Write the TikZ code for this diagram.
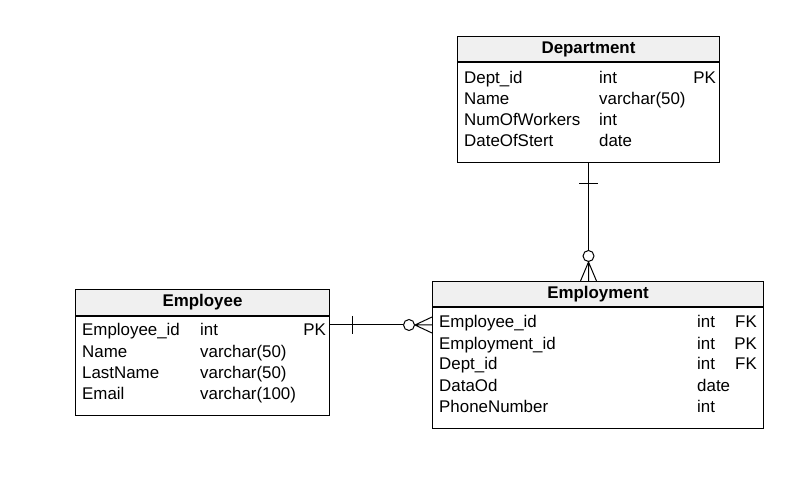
\documentclass[tikz,border=0pt]{standalone}
\usepackage{fontspec}
\setmainfont{Liberation Sans}
\usepackage{tikz}
\usetikzlibrary{positioning}
\definecolor{headgray}{HTML}{F0F0F0}
\newcommand\tablefont{\fontsize{16.9}{20}\selectfont}

\begin{document}
\begin{tikzpicture}[x=1pt, y=-1pt,
    table head/.style={draw, fill=headgray, line width=1pt, anchor=north west, inner sep=0pt, font=\bfseries\tablefont},
    table body/.style={draw, line width=1pt, anchor=north west, inner sep=0pt},
    field/.style={anchor=base west, inner sep=0pt, font=\tablefont},
    key/.style={anchor=base east, inner sep=0pt, font=\tablefont},
    rel/.style={line width=1pt}]
    \useasboundingbox (0,0) rectangle (806,486);

    % tables
    \node[table head, minimum width=262pt, minimum height=25pt] at (457,36) (dept) {Department};
    \node[table body, minimum width=262pt, minimum height=100pt] at (dept.south west) (deptbody) {};

    \node[table head, minimum width=254pt, minimum height=26pt] at (75,289) (employee) {Employee};
    \node[table body, minimum width=254pt, minimum height=99pt] at (employee.south west) (employeebody) {};

    \node[table head, minimum width=331pt, minimum height=25pt] at (432,281) (employment) {Employment};
    \node[table body, minimum width=331pt, minimum height=121pt] at (employment.south west) (employmentbody) {};

    % fields
    \foreach \name/\type [count=\i] in {Dept\_id/int, Name/varchar(50), NumOfWorkers/int, DateOfStert/date} {
        \node[field] at (464, {63+21*\i}) (dept name \i) {\name};
        \node[field] at (599, {63+21*\i}) (dept type \i) {\type};
    }
    \node[key] at (716,84) (dept key 1) {PK};

    \foreach \name/\type [count=\i] in {Employee\_id/int, Name/varchar(50), LastName/varchar(50), Email/varchar(100)} {
        \node[field] at (82, {315+21*\i}) (employee name \i) {\name};
        \node[field] at (200, {315+21*\i}) (employee type \i) {\type};
    }
    \node[key] at (326,336) (employee key 1) {PK};

    \foreach \name/\type [count=\i] in {Employee\_id/int, Employment\_id/int, Dept\_id/int, DataOd/date, PhoneNumber/int} {
        \node[field] at (439, {307+21*\i}) (employment name \i) {\name};
        \node[field] at (697, {307+21*\i}) (employment type \i) {\type};
    }
    \node[key] at (757,328) (employment key 1) {FK};
    \node[key] at (757,349) (employment key 2) {PK};
    \node[key] at (757,369) (employment key 3) {FK};

    % Department -- Employment
    \coordinate (deptfoot) at (deptbody.south |- employment.north);
    \draw[rel] (deptbody.south) -- ([yshift=31pt]deptfoot);
    \draw[rel] ([yshift=-21pt]deptbody.south) ++(-9.5pt,0) -- ++(19pt,0);
    \draw[rel, fill=white] ([yshift=25pt]deptfoot) circle (5.5pt);
    \draw[rel] ([xshift=-8pt]deptfoot) -- ([yshift=19pt]deptfoot) -- ([xshift=8pt]deptfoot)
        ([yshift=19pt]deptfoot) -- (deptfoot);

    % Employee -- Employment
    \coordinate (employeerel) at (employeebody.east |- 0,325);
    \coordinate (employeefoot) at (employeerel -| employmentbody.west);
    \draw[rel] (employeerel) -- ([xshift=-29pt]employeefoot);
    \draw[rel] ([xshift=22pt]employeerel) ++(0,9pt) -- ++(0,-18pt);
    \draw[rel, fill=white] ([xshift=-23pt]employeefoot) circle (5.5pt);
    \draw[rel] ([yshift=8pt]employeefoot) -- ([xshift=-17pt]employeefoot) -- ([yshift=-8pt]employeefoot)
        ([xshift=-17pt]employeefoot) -- (employeefoot);
\end{tikzpicture}
\end{document}
